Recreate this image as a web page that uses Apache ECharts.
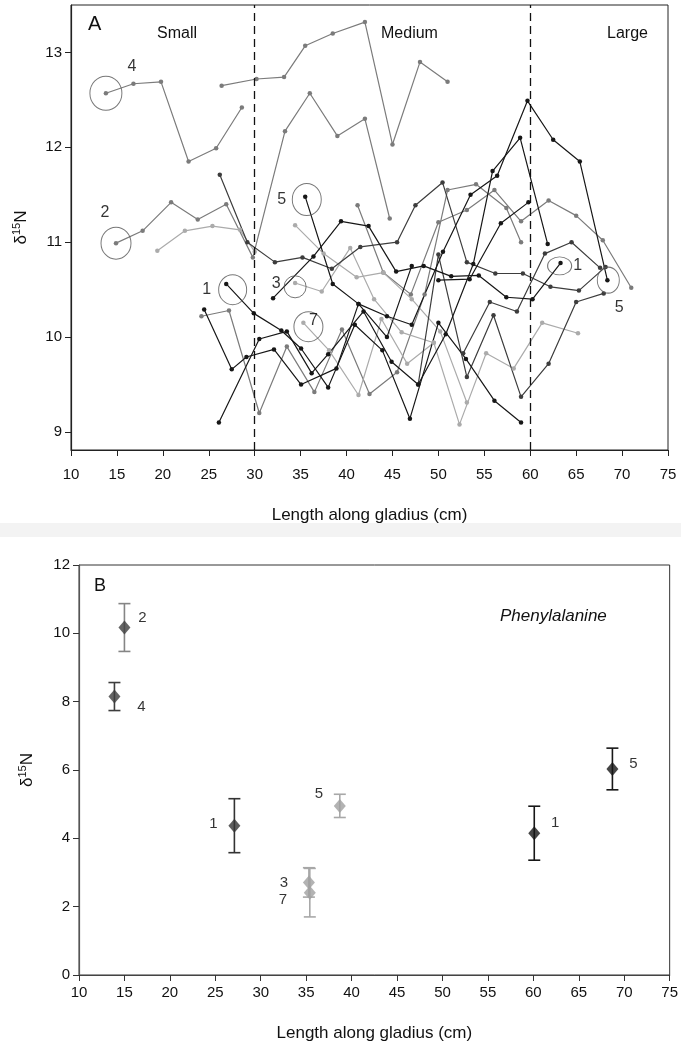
<!DOCTYPE html>
<html>
<head>
<meta charset="utf-8">
<title>δ15N along gladius</title>
<script src="https://cdn.jsdelivr.net/npm/echarts@6/dist/echarts.min.js"></script>
<style>
  html, body { margin: 0; padding: 0; background: #fff; }
  #chart { width: 681px; height: 1048px; }
</style>
</head>
<body>
<div id="chart"></div>
<script>
// ---- panel A: bulk d15N profiles, [length cm, d15N] ----
var prof4a = [[13.8, 12.57], [16.8, 12.67], [19.8, 12.69], [22.8, 11.85], [25.8, 11.99], [28.6, 12.42]]
var prof4b = [[26.4, 12.65], [30.2, 12.72], [33.2, 12.74], [35.5, 13.07], [38.5, 13.2], [42.0, 13.32], [45.0, 12.03], [48.0, 12.9], [51.0, 12.69]]
var prof2 = [[14.9, 10.99], [17.8, 11.12], [20.9, 11.42], [23.8, 11.24], [26.9, 11.4], [29.8, 10.84], [33.3, 12.17], [36.0, 12.57], [39.0, 12.12], [42.0, 12.3], [44.7, 11.25]]
var profL1 = [[19.4, 10.91], [22.4, 11.12], [25.4, 11.17], [28.4, 11.13], [30.0, 10.9]]
var profD1 = [[26.2, 11.71], [29.2, 11.0], [32.2, 10.79], [35.2, 10.84], [38.4, 10.72], [41.5, 10.95], [45.5, 11.0], [47.5, 11.39], [50.45, 11.63], [53.1, 10.79], [56.2, 10.67], [59.2, 10.67], [62.2, 10.53], [65.3, 10.49], [68.2, 10.74]]
var profB1 = [[26.9, 10.56], [29.9, 10.25], [32.9, 10.07], [35.05, 9.88], [38.0, 9.47], [40.9, 10.13], [43.9, 9.86], [46.9, 9.14], [50.0, 10.15], [53.0, 9.77], [56.1, 9.33], [59.0, 9.1]]
var profB2 = [[32.0, 10.41], [36.4, 10.85], [39.4, 11.22], [42.4, 11.17], [45.4, 10.69], [48.4, 10.75], [51.4, 10.64], [54.4, 10.65], [57.4, 10.42], [60.25, 10.4], [63.3, 10.78]]
var profB3 = [[24.5, 10.29], [27.5, 9.66], [29.1, 9.79], [32.1, 9.87], [35.05, 9.5], [38.9, 9.67], [41.3, 10.35], [44.4, 10.0], [47.1, 10.75]]
var profB4 = [[26.1, 9.1], [30.5, 9.98], [33.5, 10.06], [36.2, 9.62], [38.0, 9.82], [41.85, 10.27], [44.9, 9.74], [47.8, 9.5], [50.8, 10.03], [53.8, 10.77], [55.9, 11.75], [58.9, 12.1], [61.9, 10.98]]
var prof5 = [[35.5, 11.48], [38.5, 10.56], [41.3, 10.35], [44.4, 10.22], [47.1, 10.13], [50.5, 10.9], [53.5, 11.5], [56.4, 11.7], [59.7, 12.49], [62.5, 12.08], [65.4, 11.85], [68.4, 10.6]]
var profB6 = [[50.0, 10.6], [53.4, 10.61], [56.8, 11.2], [59.8, 11.42]]
var profG1 = [[24.2, 10.22], [27.2, 10.28], [30.5, 9.2], [33.5, 9.9], [36.5, 9.42], [39.5, 10.08], [42.5, 9.4], [45.5, 9.63], [48.5, 10.45], [51.0, 11.55], [54.1, 11.61], [57.4, 11.36], [59.0, 11.0]]
var profG2 = [[41.2, 11.39], [44.0, 10.68], [47.0, 10.45], [50.0, 11.21], [53.1, 11.34], [56.1, 11.55], [59.0, 11.22], [62.0, 11.44], [65.0, 11.28], [67.9, 11.02], [71.0, 10.52]]
var profL3 = [[34.4, 10.57], [37.3, 10.48], [40.4, 10.94], [43.0, 10.4], [46.0, 10.05], [49.5, 9.94], [52.3, 9.08], [55.2, 9.83], [58.2, 9.67], [61.3, 10.15], [65.2, 10.04]]
var profL4 = [[34.4, 11.18], [37.5, 10.88], [41.1, 10.63], [44.0, 10.68], [47.1, 10.4], [50.2, 10.06], [53.1, 9.31]]
var profL7 = [[35.3, 10.15], [38.1, 9.86], [41.3, 9.39], [43.8, 10.19], [46.6, 9.72], [49.5, 9.94]]
var profD2 = [[47.8, 9.5], [50.0, 10.87], [53.1, 9.58], [56.0, 10.23], [59.0, 9.37], [62.0, 9.72], [65.0, 10.37], [68.0, 10.46]]
var profD3 = [[52.7, 9.83], [55.6, 10.37], [58.55, 10.27], [61.6, 10.88], [64.5, 11.0], [67.6, 10.73]]

// circled samples (the ones analysed for amino acids) and their ids
var ringX = [13.8, 14.9, 27.6, 35.67, 34.4, 35.85, 63.2, 68.5]
var ringY = [12.57, 10.99, 10.5, 11.45, 10.53, 10.11, 10.75, 10.6]
var ringId = ['4', '2', '1', '5', '3', '7', '1', '5']

var sizeClasses = ['Small', 'Medium', 'Large']
var sizeBreaks = [30, 60]

// ---- panel B: phenylalanine d15N, mean and error ----
var pheId = ['4', '2', '1', '3', '7', '5', '1', '5']
var pheX = [13.9, 15.0, 27.1, 35.3, 35.4, 38.7, 60.1, 68.7]
var pheMean = [8.15, 10.17, 4.37, 2.71, 2.41, 4.95, 4.15, 6.03]
var pheErr = [0.41, 0.70, 0.79, 0.43, 0.71, 0.34, 0.79, 0.61]

var BLACK = '#171717', DARK = '#3d3d3d', MID = '#7b7b7b', LIGHT = '#ababab'
var FONT = 'Liberation Sans, Arial, sans-serif'

var profiles = [
  [prof4a, MID], [prof4b, MID], [prof2, MID], [profL1, LIGHT],
  [profG1, MID], [profG2, MID], [profL3, LIGHT], [profL4, LIGHT], [profL7, LIGHT],
  [profD2, DARK], [profD3, DARK], [profD1, DARK],
  [profB1, BLACK], [profB2, BLACK], [profB3, BLACK], [profB4, BLACK], [prof5, BLACK], [profB6, BLACK]
]

// ring sizes and label offsets, in px
var ringSize = [[32, 34], [30, 32], [28, 30], [29, 32], [22, 22], [29, 30], [24, 18], [22, 26]]
var ringLabelOff = [[26, -27], [-11, -31], [-26, 0], [-25, 0], [-19, -3], [5, -6], [18, 0], [11, 27]]

var pheColor = [DARK, DARK, '#333333', '#a0a0a0', '#a0a0a0', '#a0a0a0', BLACK, BLACK]
var pheBarColor = [DARK, '#858585', '#333333', '#a8a8a8', '#a8a8a8', '#a8a8a8', BLACK, BLACK]
var pheLabelOff = [[27, 10], [18, -10], [-21, -2], [-25, 0], [-27, 7], [-21, -12], [21, -10], [21, -5]]

var chart = echarts.init(document.getElementById('chart'))

var series = []
profiles.forEach(function (p, i) {
  var s = {
    type: 'line',
    xAxisIndex: 0,
    yAxisIndex: 0,
    data: p[0],
    symbol: 'circle',
    symbolSize: 4.5,
    lineStyle: { color: p[1], width: 1.2 },
    itemStyle: { color: p[1] },
    animation: false,
    z: 3
  }
  if (i === 0) {
    s.markLine = {
      silent: true,
      symbol: 'none',
      label: { show: false },
      lineStyle: { color: '#111', type: [8, 5], width: 1.3 },
      data: sizeBreaks.map(function (v) { return { xAxis: v } })
    }
  }
  series.push(s)
})

series.push({
  type: 'scatter',
  xAxisIndex: 0,
  yAxisIndex: 0,
  animation: false,
  z: 4,
  data: ringX.map(function (x, i) {
    return {
      value: [x, ringY[i]],
      symbolSize: ringSize[i],
      label: { offset: ringLabelOff[i] }
    }
  }),
  symbol: 'circle',
  itemStyle: { color: 'rgba(0,0,0,0)', borderColor: '#555', borderWidth: 1 },
  label: {
    show: true,
    position: 'inside',
    formatter: function (p) { return ringId[p.dataIndex] },
    fontFamily: FONT,
    fontSize: 16,
    color: '#000'
  }
})

series.push({
  type: 'custom',
  xAxisIndex: 1,
  yAxisIndex: 1,
  animation: false,
  data: pheX.map(function (x, i) {
    return { value: [x, pheMean[i] - pheErr[i], pheMean[i] + pheErr[i]], itemStyle: { color: pheBarColor[i] } }
  }),
  renderItem: function (params, api) {
    var x = api.value(0)
    var lo = api.coord([x, api.value(1)])
    var hi = api.coord([x, api.value(2)])
    var w = 6
    var st = { stroke: api.visual('color'), lineWidth: 1.6 }
    return {
      type: 'group',
      children: [
        { type: 'line', shape: { x1: lo[0], y1: lo[1], x2: hi[0], y2: hi[1] }, style: st },
        { type: 'line', shape: { x1: lo[0] - w, y1: lo[1], x2: lo[0] + w, y2: lo[1] }, style: st },
        { type: 'line', shape: { x1: hi[0] - w, y1: hi[1], x2: hi[0] + w, y2: hi[1] }, style: st }
      ]
    }
  },
  z: 3
})

series.push({
  type: 'scatter',
  xAxisIndex: 1,
  yAxisIndex: 1,
  animation: false,
  symbol: 'diamond',
  symbolSize: [12, 14],
  z: 4,
  data: pheX.map(function (x, i) {
    return {
      value: [x, pheMean[i]],
      itemStyle: { color: pheColor[i] },
      label: { offset: pheLabelOff[i] }
    }
  }),
  label: {
    show: true,
    position: 'inside',
    formatter: function (p) { return pheId[p.dataIndex] },
    fontFamily: FONT,
    fontSize: 15,
    color: '#000'
  }
})

var deltaName = '{a|δ}{b|15}{a|N}'
var deltaRich = {
  a: { fontSize: 17, fontFamily: FONT, color: '#111' },
  b: { fontSize: 11, fontFamily: FONT, color: '#111', padding: [0, 0, 9, 0] }
}

chart.setOption({
  backgroundColor: '#fff',
  textStyle: { fontFamily: FONT },
  grid: [
    { left: 71, top: 5, width: 597, height: 445, show: true, borderColor: '#222', borderWidth: 1 },
    { left: 79, top: 565, width: 592, height: 410, show: true, borderColor: '#333', borderWidth: 1 }
  ],
  xAxis: [{
    gridIndex: 0,
    type: 'value',
    min: 10,
    max: 75,
    interval: 5,
    splitLine: { show: false },
    axisLine: { lineStyle: { color: '#222', width: 1.2 } },
    axisTick: { length: 6, lineStyle: { color: '#222' } },
    axisLabel: { fontSize: 15, color: '#111', margin: 17 },
    name: 'Length along gladius (cm)',
    nameLocation: 'middle',
    nameGap: 57,
    nameTextStyle: { fontSize: 17, color: '#111' }
  }, {
    gridIndex: 1,
    type: 'value',
    min: 10,
    max: 75,
    interval: 5,
    splitLine: { show: false },
    axisLine: { lineStyle: { color: '#444', width: 1.2 } },
    axisTick: { length: 6, lineStyle: { color: '#333' } },
    axisLabel: { fontSize: 15, color: '#111', margin: 10 },
    name: 'Length along gladius (cm)',
    nameLocation: 'middle',
    nameGap: 50,
    nameTextStyle: { fontSize: 17, color: '#111' }
  }],
  yAxis: [{
    gridIndex: 0,
    type: 'value',
    min: 8.81,
    max: 13.5,
    splitLine: { show: false },
    axisLine: { show: true, lineStyle: { color: '#222', width: 1.2 } },
    axisTick: { show: true, length: 6, customValues: [9, 10, 11, 12, 13], lineStyle: { color: '#222' } },
    axisLabel: { fontSize: 15, color: '#111', margin: 9, customValues: [9, 10, 11, 12, 13] },
    name: deltaName,
    nameLocation: 'middle',
    nameRotate: 90,
    nameGap: 40,
    nameTextStyle: { rich: deltaRich }
  }, {
    gridIndex: 1,
    type: 'value',
    min: 0,
    max: 12,
    interval: 2,
    splitLine: { show: false },
    axisLine: { show: true, lineStyle: { color: '#555', width: 1.2 } },
    axisTick: { show: true, length: 6, lineStyle: { color: '#333' } },
    axisLabel: { fontSize: 15, color: '#111', margin: 9 },
    name: deltaName,
    nameLocation: 'middle',
    nameRotate: 90,
    nameGap: 42,
    nameTextStyle: { rich: deltaRich }
  }],
  graphic: [
    { type: 'rect', shape: { x: 0, y: 523, width: 681, height: 14 }, style: { fill: '#f3f3f3' }, silent: true },
    { type: 'text', left: 88, top: 14, style: { text: 'A', fontSize: 20, fontFamily: FONT, fill: '#111' } },
    { type: 'text', left: 157, top: 26, style: { text: sizeClasses[0], fontSize: 16, fontFamily: FONT, fill: '#111' } },
    { type: 'text', left: 381, top: 26, style: { text: sizeClasses[1], fontSize: 16, fontFamily: FONT, fill: '#111' } },
    { type: 'text', left: 607, top: 26, style: { text: sizeClasses[2], fontSize: 16, fontFamily: FONT, fill: '#111' } },
    { type: 'text', left: 94, top: 577, style: { text: 'B', fontSize: 18, fontFamily: FONT, fill: '#111' } },
    { type: 'text', left: 500, top: 608, style: { text: 'Phenylalanine', fontSize: 17, fontStyle: 'italic', fontFamily: FONT, fill: '#111' } }
  ],
  series: series
})
</script>
</body>
</html>
